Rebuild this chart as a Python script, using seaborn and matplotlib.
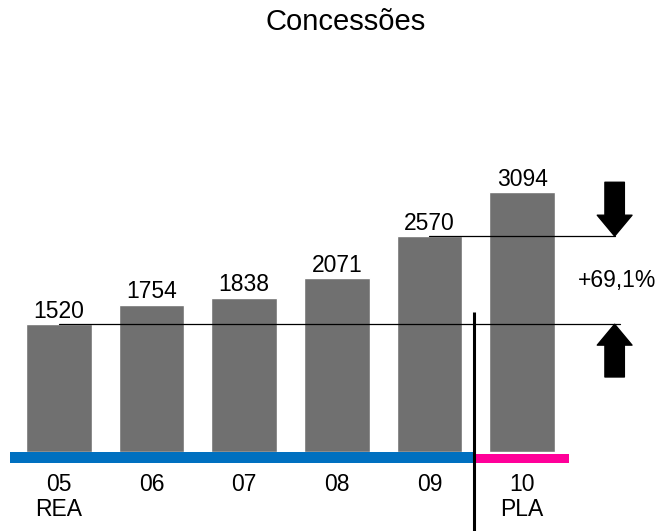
import numpy as np
import pandas as pd
import matplotlib
matplotlib.use("Agg")
import matplotlib.pyplot as plt
import seaborn as sns

# données
years = ["05", "06", "07", "08", "09", "10"]
values = [1520, 1754, 1838, 2071, 2570, 3094]
sub_labels = ["REA", "", "", "", "", "PLA"]
variation = "+69,1%"
title = "Concessões"

sns.set_theme(style="white")
plt.rcParams['font.family'] = ['Liberation Sans', 'DejaVu Sans']
plt.rcParams['text.color'] = 'black'

df = pd.DataFrame({"ano": years, "valor": values})

fig = plt.figure(figsize=(6.59, 5.31), dpi=100)
ax = fig.add_axes([0, 0, 1, 1])

sns.barplot(data=df, x="ano", y="valor", color="#707070", saturation=1,
            width=0.71, ax=ax)
ax.bar_label(ax.containers[0], labels=[str(v) for v in values],
             padding=1, fontsize=16.5, color="black")

# échelle de pixels -> données
ax.set_xlim(-0.637, 6.479)
ax.set_ylim(-940, 5379)
ax.axis("off")

n = len(years)
split = n - 1.518  # séparation réalisé / planifié

# bandes de couleur sous les barres
ax.fill_between([-0.529, split], -131, 0, color="#0070C0", lw=0)
ax.fill_between([split, n - 0.492], -131, -24, color="#FF0099", lw=0)
ax.plot([split, split], [1666, -940], color="black", lw=2.2, solid_capstyle="butt")

# libellés des années
for i, (yr, sub) in enumerate(zip(years, sub_labels)):
    ax.text(i, -390, yr, ha="center", va="center", fontsize=16.5, color="black")
    if sub:
        ax.text(i, -685, sub, ha="center", va="center", fontsize=16.5, color="black")

# lignes de référence et flèches
first, last_real = values[0], values[-2]
ax.plot([0, 6.06], [first, first], color="black", lw=0.9)
ax.plot([n - 2, 6.0], [last_real, last_real], color="black", lw=0.9)

arrow = dict(arrowstyle="simple,head_width=25,head_length=15,tail_width=14",
             mutation_scale=1, color="black", shrinkA=0, shrinkB=0)
ax.annotate("", xy=(6.0, last_real), xytext=(6.0, 3210), arrowprops=arrow)
ax.annotate("", xy=(6.0, first), xytext=(6.0, 893), arrowprops=arrow)

ax.text(6.03, (first + last_real) / 2, variation, ha="center", va="center",
        fontsize=16.5, color="black")

fig.text(0.524, 0.958, title, ha="center", va="center", fontsize=21, color="black")

fig.savefig("out.png", dpi=100)
plt.close()
